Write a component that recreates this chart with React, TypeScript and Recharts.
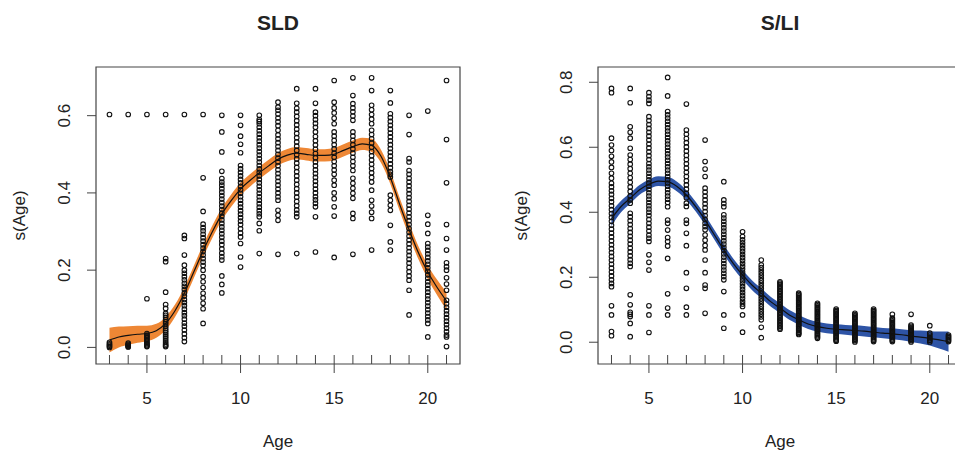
import React from 'react';
import { ComposedChart, XAxis, YAxis, Scatter, Line, Area, ReferenceArea } from 'recharts';

const ages = [3, 4, 5, 6, 7, 8, 9, 10, 11, 12, 13, 14, 15, 16, 17, 18, 19, 20, 21];
const xTicks = [5, 10, 15, 20];
const sldYTicks = [0, 0.2, 0.4, 0.6];
const sliYTicks = [0, 0.2, 0.4, 0.6, 0.8];
const xDomain: [number, number] = [2.28, 21.72];
const sldYDomain: [number, number] = [-0.043, 0.726];
const sliYDomain: [number, number] = [-0.067, 0.847];

// partial-residual points, one list per age
const sldPoints: number[][] = [
  [0.603, 0.013, 0.009, 0.006, 0.003, 0.0],
  [0.603, 0.011, 0.008, 0.006, 0.004, 0.002, 0.001],
  [0.603, 0.126, 0.036, 0.032, 0.028, 0.025, 0.021, 0.017, 0.013, 0.01, 0.007, 0.004, 0.002],
  [0.603, 0.23, 0.222, 0.143, 0.111, 0.101, 0.088, 0.083, 0.078, 0.072, 0.066, 0.061, 0.055, 0.049, 0.044, 0.039, 0.034, 0.029, 0.024, 0.019, 0.014, 0.009, 0.005, 0.002],
  [0.603, 0.29, 0.282, 0.239, 0.213, 0.2, 0.192, 0.183, 0.175, 0.166, 0.158, 0.15, 0.141, 0.133, 0.124, 0.116, 0.108, 0.099, 0.09, 0.082, 0.073, 0.063, 0.055, 0.045, 0.035, 0.025, 0.015],
  [0.603, 0.439, 0.352, 0.319, 0.31, 0.302, 0.293, 0.284, 0.275, 0.266, 0.257, 0.248, 0.239, 0.23, 0.221, 0.212, 0.2, 0.183, 0.17, 0.155, 0.14, 0.128, 0.114, 0.1, 0.062],
  [0.601, 0.558, 0.506, 0.456, 0.437, 0.428, 0.42, 0.411, 0.402, 0.393, 0.384, 0.375, 0.366, 0.357, 0.348, 0.339, 0.33, 0.321, 0.312, 0.303, 0.294, 0.285, 0.275, 0.266, 0.255, 0.244, 0.235, 0.226, 0.185, 0.163, 0.141],
  [0.601, 0.575, 0.547, 0.526, 0.504, 0.471, 0.462, 0.453, 0.444, 0.435, 0.426, 0.417, 0.408, 0.399, 0.39, 0.381, 0.372, 0.363, 0.354, 0.345, 0.336, 0.327, 0.318, 0.307, 0.296, 0.286, 0.269, 0.234, 0.208],
  [0.601, 0.59, 0.585, 0.579, 0.57, 0.561, 0.552, 0.543, 0.534, 0.525, 0.516, 0.507, 0.498, 0.489, 0.48, 0.471, 0.462, 0.453, 0.444, 0.435, 0.426, 0.417, 0.408, 0.399, 0.39, 0.381, 0.372, 0.363, 0.354, 0.346, 0.338, 0.321, 0.302, 0.243],
  [0.635, 0.622, 0.614, 0.604, 0.594, 0.584, 0.574, 0.562, 0.55, 0.54, 0.53, 0.52, 0.51, 0.5, 0.49, 0.48, 0.47, 0.46, 0.45, 0.44, 0.43, 0.42, 0.41, 0.4, 0.39, 0.381, 0.355, 0.342, 0.329, 0.241],
  [0.67, 0.632, 0.619, 0.609, 0.598, 0.587, 0.576, 0.565, 0.554, 0.543, 0.532, 0.521, 0.51, 0.499, 0.488, 0.477, 0.466, 0.455, 0.444, 0.433, 0.422, 0.411, 0.4, 0.389, 0.378, 0.367, 0.356, 0.347, 0.338, 0.243],
  [0.67, 0.632, 0.609, 0.6, 0.59, 0.58, 0.57, 0.558, 0.546, 0.535, 0.524, 0.513, 0.502, 0.491, 0.48, 0.47, 0.46, 0.45, 0.44, 0.43, 0.42, 0.41, 0.4, 0.39, 0.382, 0.373, 0.364, 0.338, 0.247],
  [0.691, 0.635, 0.62, 0.607, 0.593, 0.579, 0.558, 0.547, 0.536, 0.525, 0.514, 0.503, 0.492, 0.481, 0.47, 0.459, 0.448, 0.433, 0.42, 0.4, 0.385, 0.364, 0.34, 0.233],
  [0.698, 0.652, 0.631, 0.62, 0.61, 0.599, 0.588, 0.558, 0.547, 0.536, 0.525, 0.514, 0.503, 0.492, 0.481, 0.47, 0.458, 0.438, 0.425, 0.412, 0.399, 0.386, 0.347, 0.334, 0.241],
  [0.698, 0.665, 0.627, 0.615, 0.603, 0.591, 0.579, 0.562, 0.551, 0.54, 0.529, 0.518, 0.507, 0.496, 0.485, 0.474, 0.463, 0.452, 0.44, 0.428, 0.407, 0.381, 0.366, 0.35, 0.334, 0.252],
  [0.665, 0.633, 0.605, 0.595, 0.585, 0.575, 0.565, 0.555, 0.545, 0.535, 0.525, 0.515, 0.505, 0.495, 0.485, 0.475, 0.465, 0.455, 0.448, 0.441, 0.394, 0.381, 0.368, 0.355, 0.316, 0.273, 0.252],
  [0.601, 0.551, 0.489, 0.48, 0.458, 0.448, 0.438, 0.428, 0.418, 0.408, 0.398, 0.388, 0.378, 0.368, 0.358, 0.348, 0.338, 0.328, 0.318, 0.308, 0.298, 0.288, 0.278, 0.268, 0.258, 0.248, 0.238, 0.228, 0.218, 0.207, 0.196, 0.185, 0.174, 0.148, 0.084],
  [0.612, 0.342, 0.319, 0.295, 0.269, 0.26, 0.251, 0.242, 0.233, 0.224, 0.215, 0.206, 0.197, 0.188, 0.179, 0.17, 0.161, 0.152, 0.143, 0.134, 0.125, 0.116, 0.107, 0.098, 0.089, 0.08, 0.071, 0.062, 0.027],
  [0.691, 0.538, 0.426, 0.318, 0.282, 0.252, 0.219, 0.209, 0.2, 0.18, 0.164, 0.148, 0.122, 0.113, 0.104, 0.095, 0.086, 0.077, 0.068, 0.059, 0.05, 0.041, 0.032, 0.027, 0.002],
];

const sliPoints: number[][] = [
  [0.781, 0.768, 0.628, 0.607, 0.59, 0.572, 0.555, 0.538, 0.52, 0.505, 0.489, 0.478, 0.466, 0.455, 0.443, 0.432, 0.42, 0.408, 0.396, 0.384, 0.372, 0.36, 0.348, 0.336, 0.324, 0.312, 0.3, 0.288, 0.276, 0.264, 0.252, 0.24, 0.228, 0.216, 0.204, 0.192, 0.181, 0.171, 0.112, 0.084, 0.033, 0.02],
  [0.781, 0.737, 0.663, 0.646, 0.628, 0.597, 0.576, 0.562, 0.548, 0.534, 0.52, 0.506, 0.492, 0.478, 0.464, 0.45, 0.438, 0.428, 0.397, 0.386, 0.374, 0.362, 0.35, 0.338, 0.326, 0.314, 0.302, 0.29, 0.278, 0.266, 0.254, 0.243, 0.233, 0.146, 0.115, 0.092, 0.086, 0.079, 0.058, 0.017],
  [0.768, 0.756, 0.745, 0.735, 0.694, 0.682, 0.67, 0.658, 0.646, 0.634, 0.622, 0.61, 0.598, 0.586, 0.574, 0.562, 0.55, 0.54, 0.53, 0.52, 0.51, 0.5, 0.49, 0.48, 0.47, 0.46, 0.45, 0.44, 0.43, 0.42, 0.41, 0.4, 0.39, 0.378, 0.366, 0.354, 0.342, 0.33, 0.32, 0.31, 0.269, 0.246, 0.222, 0.112, 0.084, 0.03],
  [0.815, 0.758, 0.71, 0.7, 0.69, 0.68, 0.67, 0.66, 0.65, 0.64, 0.63, 0.62, 0.61, 0.6, 0.59, 0.58, 0.57, 0.56, 0.55, 0.54, 0.53, 0.52, 0.51, 0.5, 0.49, 0.48, 0.47, 0.46, 0.45, 0.44, 0.43, 0.417, 0.376, 0.366, 0.345, 0.322, 0.31, 0.296, 0.258, 0.149, 0.105, 0.084],
  [0.733, 0.653, 0.64, 0.627, 0.614, 0.601, 0.588, 0.575, 0.562, 0.549, 0.536, 0.523, 0.51, 0.497, 0.484, 0.471, 0.458, 0.445, 0.428, 0.418, 0.376, 0.366, 0.335, 0.297, 0.214, 0.166, 0.108, 0.084],
  [0.622, 0.556, 0.533, 0.51, 0.474, 0.462, 0.45, 0.438, 0.426, 0.414, 0.402, 0.39, 0.378, 0.366, 0.356, 0.346, 0.33, 0.314, 0.298, 0.284, 0.253, 0.214, 0.176, 0.166, 0.089],
  [0.494, 0.438, 0.427, 0.417, 0.392, 0.382, 0.372, 0.362, 0.352, 0.342, 0.332, 0.322, 0.312, 0.302, 0.292, 0.282, 0.272, 0.262, 0.252, 0.242, 0.232, 0.222, 0.212, 0.202, 0.192, 0.156, 0.084, 0.043],
  [0.34, 0.325, 0.315, 0.306, 0.297, 0.288, 0.279, 0.27, 0.261, 0.252, 0.243, 0.234, 0.225, 0.216, 0.207, 0.198, 0.189, 0.18, 0.171, 0.162, 0.153, 0.144, 0.135, 0.126, 0.118, 0.11, 0.084, 0.031],
  [0.253, 0.238, 0.23, 0.222, 0.214, 0.206, 0.198, 0.19, 0.182, 0.174, 0.166, 0.158, 0.15, 0.142, 0.134, 0.126, 0.118, 0.11, 0.102, 0.094, 0.086, 0.078, 0.069, 0.046, 0.014],
  [0.186, 0.182, 0.178, 0.172, 0.168, 0.163, 0.158, 0.154, 0.149, 0.144, 0.139, 0.134, 0.129, 0.124, 0.119, 0.114, 0.109, 0.104, 0.099, 0.094, 0.089, 0.084, 0.079, 0.074, 0.069, 0.064, 0.059, 0.054, 0.049, 0.044, 0.04],
  [0.151, 0.147, 0.143, 0.139, 0.135, 0.131, 0.127, 0.123, 0.119, 0.115, 0.111, 0.107, 0.103, 0.099, 0.095, 0.091, 0.087, 0.083, 0.079, 0.075, 0.071, 0.067, 0.063, 0.059, 0.055, 0.051, 0.047, 0.043, 0.039, 0.035, 0.031, 0.027, 0.024],
  [0.12, 0.116, 0.112, 0.108, 0.104, 0.1, 0.096, 0.092, 0.088, 0.084, 0.08, 0.076, 0.072, 0.068, 0.064, 0.06, 0.056, 0.052, 0.048, 0.044, 0.04, 0.036, 0.032, 0.028, 0.024, 0.02, 0.016, 0.012],
  [0.102, 0.098, 0.094, 0.09, 0.086, 0.082, 0.078, 0.074, 0.07, 0.066, 0.062, 0.058, 0.054, 0.05, 0.046, 0.042, 0.038, 0.034, 0.03, 0.026, 0.022, 0.018, 0.014, 0.01, 0.006, 0.003],
  [0.089, 0.085, 0.081, 0.077, 0.073, 0.069, 0.065, 0.061, 0.057, 0.053, 0.049, 0.045, 0.041, 0.037, 0.033, 0.029, 0.025, 0.021, 0.017, 0.013, 0.009, 0.005, 0.001],
  [0.102, 0.098, 0.094, 0.09, 0.086, 0.082, 0.078, 0.074, 0.07, 0.066, 0.062, 0.058, 0.054, 0.05, 0.046, 0.042, 0.038, 0.034, 0.03, 0.026, 0.022, 0.018, 0.014, 0.01, 0.006, 0.002],
  [0.086, 0.074, 0.07, 0.066, 0.062, 0.058, 0.054, 0.05, 0.046, 0.042, 0.038, 0.034, 0.03, 0.026, 0.022, 0.018, 0.014, 0.01, 0.006, 0.002],
  [0.086, 0.053, 0.049, 0.045, 0.041, 0.037, 0.033, 0.029, 0.025, 0.021, 0.017, 0.013, 0.009, 0.005, 0.001],
  [0.051, 0.028, 0.022, 0.016, 0.011, 0.006, 0.001],
  [0.022, 0.018, 0.014, 0.01, 0.006, 0.002],
];

// smooth fits, read at half-year steps
const curveAges = [3, 3.5, 4, 4.5, 5, 5.5, 6, 6.5, 7, 7.5, 8, 8.5, 9, 9.5, 10, 10.5, 11, 11.5, 12, 12.5, 13, 13.5, 14, 14.5, 15, 15.5, 16, 16.5, 17, 17.5, 18, 18.5, 19, 19.5, 20, 20.5, 21];
const sldFit = [0.019, 0.027, 0.031, 0.034, 0.036, 0.043, 0.062, 0.095, 0.14, 0.195, 0.25, 0.3, 0.345, 0.38, 0.41, 0.432, 0.452, 0.47, 0.487, 0.498, 0.503, 0.5, 0.497, 0.497, 0.5, 0.51, 0.52, 0.527, 0.523, 0.495, 0.44, 0.37, 0.305, 0.245, 0.195, 0.155, 0.12];
const sldSe = [0.032, 0.027, 0.024, 0.022, 0.02, 0.018, 0.017, 0.016, 0.016, 0.016, 0.016, 0.016, 0.016, 0.016, 0.016, 0.016, 0.016, 0.016, 0.016, 0.016, 0.016, 0.016, 0.016, 0.016, 0.016, 0.016, 0.016, 0.016, 0.017, 0.017, 0.017, 0.017, 0.017, 0.017, 0.018, 0.02, 0.023];
const sliFit = [0.38, 0.417, 0.443, 0.469, 0.486, 0.496, 0.494, 0.479, 0.453, 0.417, 0.376, 0.33, 0.284, 0.243, 0.207, 0.176, 0.151, 0.125, 0.105, 0.084, 0.069, 0.056, 0.048, 0.043, 0.04, 0.038, 0.036, 0.034, 0.031, 0.028, 0.026, 0.023, 0.019, 0.016, 0.012, 0.007, 0.002];
const sliSe = [0.022, 0.018, 0.016, 0.015, 0.015, 0.015, 0.015, 0.015, 0.015, 0.015, 0.015, 0.015, 0.015, 0.015, 0.015, 0.015, 0.015, 0.015, 0.015, 0.015, 0.015, 0.015, 0.015, 0.015, 0.015, 0.015, 0.016, 0.016, 0.016, 0.016, 0.017, 0.017, 0.018, 0.02, 0.022, 0.026, 0.031];

const FONT = '"Liberation Sans", Arial, Helvetica, sans-serif';
const INK = '#222';
const LINE = '#444';

const Circle = (p: any) => (
  <circle cx={p.cx} cy={p.cy} r={2.3} fill="none" stroke="#111" strokeWidth={1.1} />
);
const RugTick = (p: any) => (
  <line x1={p.cx} x2={p.cx} y1={p.cy} y2={p.cy - 9} stroke={LINE} strokeWidth={1} />
);

const YTick = (p: any) => {
  const bx = p.x - 17;
  return (
    <text x={bx} y={p.y} transform={`rotate(-90 ${bx} ${p.y})`} textAnchor="middle" fontSize={17} fill={INK} fontFamily={FONT}>
      {Number(p.payload.value).toFixed(1)}
    </text>
  );
};

type PanelProps = {
  title: string;
  points: number[][];
  fit: number[];
  se: number[];
  color: string;
  yDomain: [number, number];
  yTicks: number[];
};

const Panel = ({ title, points, fit, se, color, yDomain, yTicks }: PanelProps) => {
  const curve = curveAges.map((x, i) => ({ x, fit: fit[i], band: [fit[i] - se[i], fit[i] + se[i]] }));
  const scatter = ages.flatMap((a, i) => points[i].map((y) => ({ x: a, y })));
  const rug = ages.map((a) => ({ x: a, y: yDomain[0] }));
  const texts = (p: any) => {
    const vb = p.viewBox;
    const cx = vb.x + vb.width / 2;
    const cy = vb.y + vb.height / 2;
    const lx = vb.x - 71;
    return (
      <g fontFamily={FONT} fill={INK}>
        <text x={cx} y={vb.y - 37} textAnchor="middle" fontSize={21} fontWeight="bold">{title}</text>
        <text x={cx} y={vb.y + vb.height + 83} textAnchor="middle" fontSize={17}>Age</text>
        <text x={lx} y={cy} transform={`rotate(-90 ${lx} ${cy})`} textAnchor="middle" fontSize={17}>s(Age)</text>
      </g>
    );
  };
  return (
    <ComposedChart
      width={480}
      height={453}
      data={curve}
      margin={{ top: 67, right: 20, bottom: 49, left: 56 }}
      style={{ fontFamily: FONT }}
    >
      <XAxis
        type="number"
        dataKey="x"
        domain={xDomain}
        allowDataOverflow
        ticks={xTicks}
        tickSize={9}
        tickMargin={19}
        height={40}
        axisLine={false}
        tickLine={{ stroke: LINE }}
        tick={{ fontSize: 17, fill: INK, fontFamily: FONT }}
      />
      <YAxis
        type="number"
        domain={yDomain}
        allowDataOverflow
        ticks={yTicks}
        tickSize={9}
        tickMargin={0}
        width={40}
        axisLine={false}
        tickLine={{ stroke: LINE }}
        tick={<YTick />}
      />
      <Area type="monotone" dataKey="band" stroke="none" fill={color} fillOpacity={1} isAnimationActive={false} />
      <Line type="monotone" dataKey="fit" stroke="#111" strokeWidth={1.2} dot={false} isAnimationActive={false} />
      <Scatter data={scatter} dataKey="y" shape={<Circle />} isAnimationActive={false} />
      <Scatter data={rug} dataKey="y" shape={<RugTick />} isAnimationActive={false} />
      <ReferenceArea
        x1={xDomain[0]}
        x2={xDomain[1]}
        y1={yDomain[0]}
        y2={yDomain[1]}
        fill="none"
        stroke={LINE}
        strokeWidth={1.2}
        ifOverflow="visible"
        label={texts}
      />
    </ComposedChart>
  );
};

export default function App() {
  return (
    <div style={{ position: 'fixed', left: 0, top: 0, width: 955, height: 453, overflow: 'hidden', background: '#fff' }}>
      <div style={{ position: 'absolute', left: 0, top: 0 }}>
        <Panel title="SLD" points={sldPoints} fit={sldFit} se={sldSe} color="#EE8735" yDomain={sldYDomain} yTicks={sldYTicks} />
      </div>
      <div style={{ position: 'absolute', left: 502, top: 0 }}>
        <Panel title="S/LI" points={sliPoints} fit={sliFit} se={sliSe} color="#2E54A6" yDomain={sliYDomain} yTicks={sliYTicks} />
      </div>
    </div>
  );
}
